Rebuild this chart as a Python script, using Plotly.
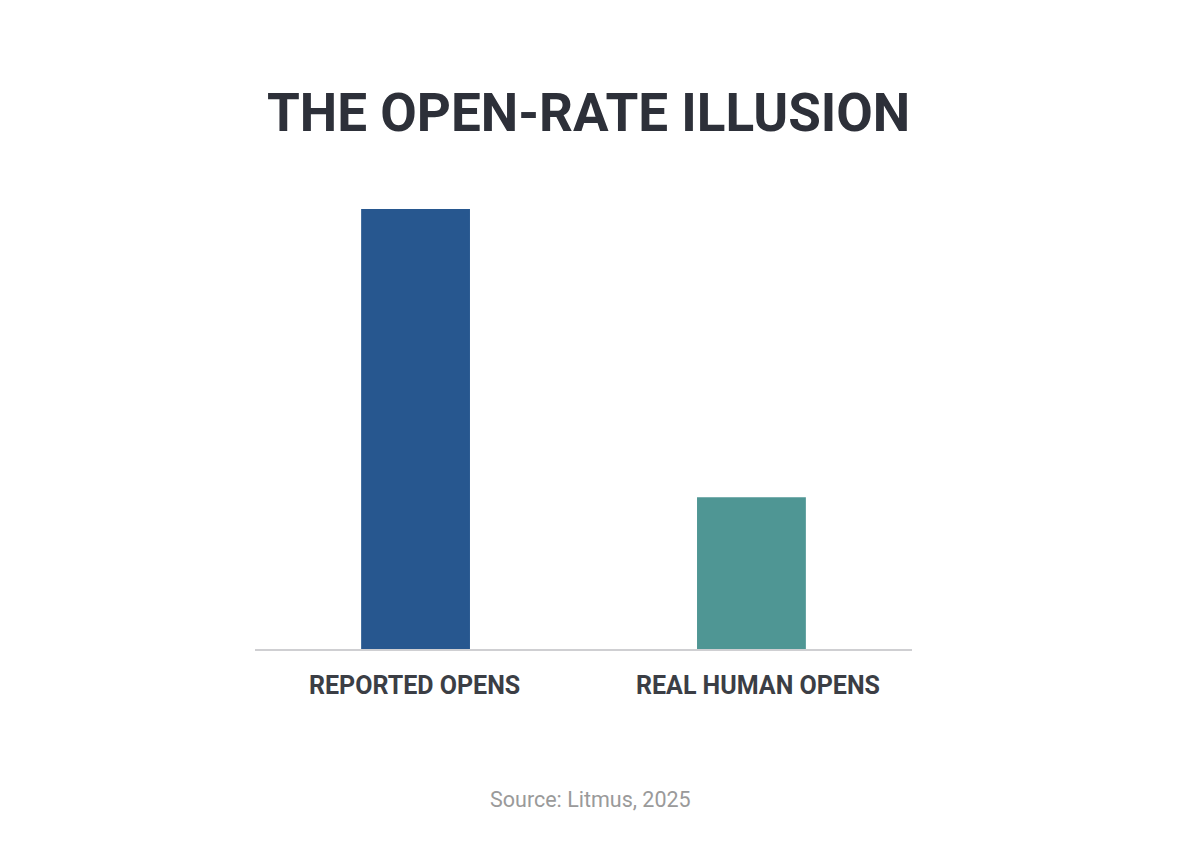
import plotly.graph_objects as go

categories = ["REPORTED OPENS", "REAL HUMAN OPENS"]
values = [100, 34.5]
colors = ["#27578f", "#4f9694"]
title_text = "THE OPEN-RATE ILLUSION"
source_text = "Source: Litmus, 2025"

FONT = "Roboto, sans-serif"
label_shifts = [-1, 7]

fig = go.Figure()
fig.add_trace(go.Bar(
    x=categories, y=values, marker=dict(color=colors, line=dict(width=0)),
    width=0.324, hoverinfo="skip",
))

annotations = [
    dict(text=f"<b>{title_text}</b>", x=0.507, y=1.218, xref="paper", yref="paper",
         showarrow=False, xanchor="center", yanchor="middle",
         font=dict(family=FONT, size=53, color="#2d3039")),
    dict(text=source_text, x=0.51, y=-0.343, xref="paper", yref="paper",
         showarrow=False, xanchor="center", yanchor="middle",
         font=dict(family="Roboto, sans-serif", size=21.5, color="#9a9a9a")),
]
for c, s in zip(categories, label_shifts):
    annotations.append(dict(text=f"<b>{c}</b>", x=c, y=-0.082, xref="x", yref="paper",
                            showarrow=False, xanchor="center", yanchor="middle", xshift=s,
                            font=dict(family=FONT, size=25, color="#3b3e45")))

fig.update_layout(
    width=1184, height=864,
    margin=dict(l=255, r=272, t=209, b=215),
    paper_bgcolor="#ffffff", plot_bgcolor="#ffffff",
    showlegend=False,
    xaxis=dict(range=[-0.478, 1.478], showticklabels=False, ticks="",
               showline=True, linecolor="#cfcfd2", linewidth=2, showgrid=False,
               zeroline=False, fixedrange=True),
    yaxis=dict(range=[0, 100], visible=False, showgrid=False, zeroline=False,
               fixedrange=True),
    annotations=annotations,
)

fig.write_html("out.html", config={"displayModeBar": False})
